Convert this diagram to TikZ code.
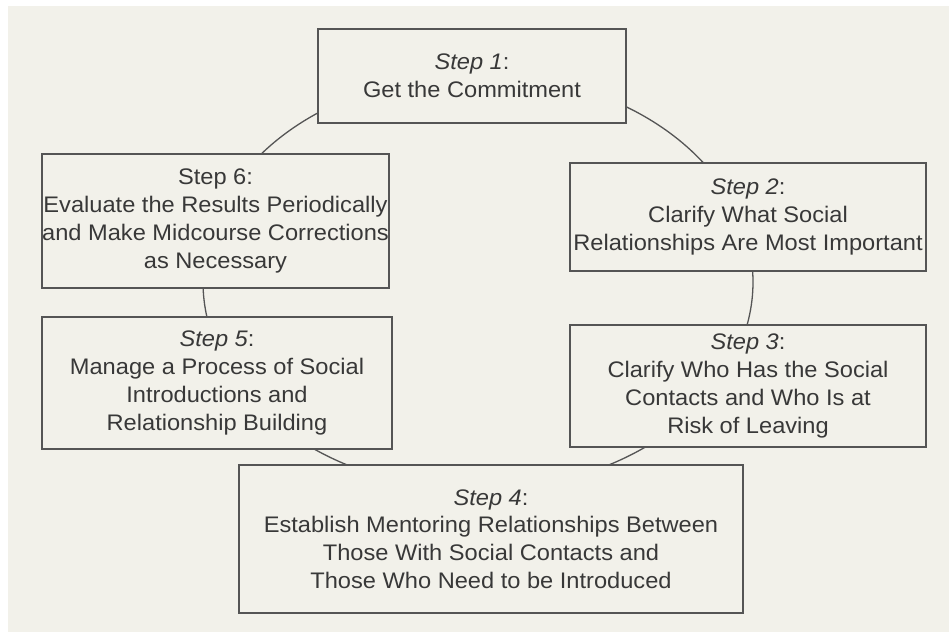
\documentclass[tikz,border=0pt]{standalone}
\usepackage{fontspec}
\setmainfont[FakeStretch=1.05]{Liberation Sans}
\usetikzlibrary{backgrounds}
\definecolor{paper}{HTML}{F2F1EA}
\definecolor{ink}{HTML}{383838}
\definecolor{edge}{HTML}{555555}
\tikzset{
  stepbox/.style={draw=edge, line width=1.8pt, fill=paper, align=center,
    text=ink, inner sep=0pt, font=\fontsize{22.5}{27.8}\selectfont},
  link/.style={draw=edge, line width=1.3pt},
}
\begin{document}
\begin{tikzpicture}[x=1pt,y=1pt]
\useasboundingbox (0,0) rectangle (949,632);

% the six steps
\node[stepbox, minimum width=308pt, minimum height=94pt] (s1) at (472,556)
  {\textit{Step 1}:\\Get the Commitment};
\node[stepbox, minimum width=356pt, minimum height=108pt] (s2) at (748,415)
  {\textit{Step 2}:\\Clarify What Social\\Relationships Are Most Important};
\node[stepbox, minimum width=356pt, minimum height=122pt] (s3) at (748,246)
  {\textit{Step 3}:\\Clarify Who Has the Social\\Contacts and Who Is at\\Risk of Leaving};
\node[stepbox, minimum width=504pt, minimum height=148pt] (s4) at (491,93)
  {\textit{Step 4}:\\Establish Mentoring Relationships Between\\Those With Social Contacts and\\Those Who Need to be Introduced};
\node[stepbox, minimum width=350pt, minimum height=132pt] (s5) at (217,249)
  {\textit{Step 5}:\\Manage a Process of Social\\Introductions and\\Relationship Building};
\node[stepbox, minimum width=345pt, minimum height=134pt] (s6) at (215.5,411)
  {Step 6:\\Evaluate the Results Periodically\\and Make Midcourse Corrections\\as Necessary};

% centre of the cycle ring
\coordinate (ring) at (478,350);

\begin{scope}[on background layer]
  \fill[white] (0,0) rectangle (949,632);
  \fill[paper] (8,0) rectangle (949,626);
  % ring segments joining consecutive steps, ends tucked under the boxes
  \draw[link] ([shift={(70:275 and 208)}]ring)  arc[start angle=70,  end angle=25,  x radius=275, y radius=208]; % s1 -> s2
  \draw[link] ([shift={(5:275 and 208)}]ring)   arc[start angle=5,   end angle=-15, x radius=275, y radius=208]; % s2 -> s3
  \draw[link] ([shift={(-45:275 and 208)}]ring) arc[start angle=-45, end angle=-70, x radius=275, y radius=208]; % s3 -> s4
  \draw[link] ([shift={(-110:275 and 208)}]ring) arc[start angle=-110, end angle=-135, x radius=275, y radius=208]; % s4 -> s5
  \draw[link] ([shift={(195:275 and 208)}]ring) arc[start angle=195, end angle=175, x radius=275, y radius=208]; % s5 -> s6
  \draw[link] ([shift={(150:275 and 208)}]ring) arc[start angle=150, end angle=110, x radius=275, y radius=208]; % s6 -> s1
\end{scope}
\end{tikzpicture}
\end{document}
